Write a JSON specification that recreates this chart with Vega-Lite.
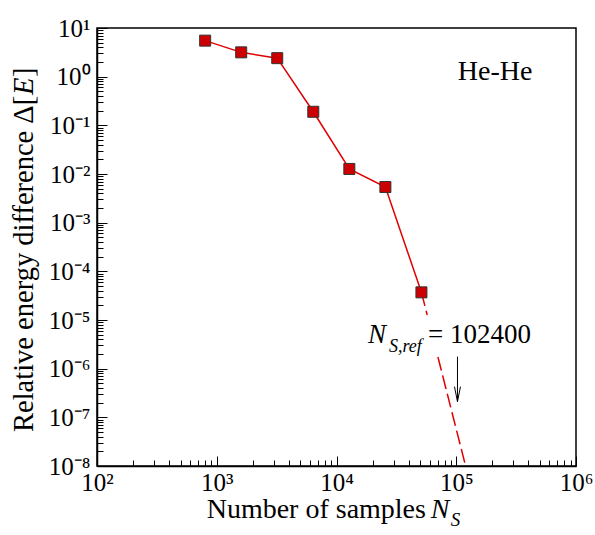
{
  "$schema": "https://vega.github.io/schema/vega-lite/v6.json",
  "width": 479,
  "height": 438,
  "autosize": "none",
  "padding": {"left": 97, "top": 28, "right": 19, "bottom": 69},
  "background": "white",
  "config": {
    "font": "Liberation Serif",
    "view": {"stroke": "black", "strokeWidth": 1.5},
    "axis": {
      "grid": false,
      "domainColor": "black",
      "domainWidth": 1.5,
      "tickColor": "black",
      "tickWidth": 1,
      "labelFont": "Liberation Serif",
      "labelFontSize": 25,
      "labelColor": "black",
      "labelOverlap": false,
      "labelFlush": false,
      "labelBound": false,
      "title": null
    },
    "text": {"font": "Liberation Serif", "color": "black"}
  },
  "datasets": {
    "main": [
      {"samples": 800, "delta": 5.5},
      {"samples": 1600, "delta": 3.16},
      {"samples": 3200, "delta": 2.4},
      {"samples": 6400, "delta": 0.19},
      {"samples": 12800, "delta": 0.0127},
      {"samples": 25600, "delta": 0.0054},
      {"samples": 51200, "delta": 3.7e-5}
    ],
    "extrap": [
      {"seg": "a", "samples": 51200, "delta": 3.7e-5},
      {"seg": "a", "samples": 57200, "delta": 1.27e-5},
      {"seg": "b", "samples": 70300, "delta": 1.74e-6},
      {"seg": "b", "samples": 119700, "delta": 1e-8}
    ]
  },
  "encoding": {
    "x": {
      "field": "samples",
      "type": "quantitative",
      "title": null,
      "scale": {"type": "log", "domain": [100, 1000000], "nice": false},
      "axis": {
        "values": [100,200,300,400,500,600,700,800,900,1000,2000,3000,4000,5000,6000,7000,8000,9000,10000,20000,30000,40000,50000,60000,70000,80000,90000,100000,200000,300000,400000,500000,600000,700000,800000,900000,1000000],
        "tickSize": {"condition": {"test": "abs(log(datum.value)/LN10 - round(log(datum.value)/LN10)) < 0.001", "value": -10}, "value": -6},
        "labelPadding": 14,
        "labelExpr": "abs(log(datum.value)/LN10 - round(log(datum.value)/LN10)) < 0.001 ? '10' + ['²','³','⁴','⁵','⁶'][round(log(datum.value)/LN10) - 2] : ''"
      }
    },
    "y": {
      "field": "delta",
      "type": "quantitative",
      "title": null,
      "scale": {"type": "log", "domain": [1e-8, 10], "nice": false},
      "axis": {
        "values": [1e-8,2e-8,3e-8,4e-8,5e-8,6e-8,7e-8,8e-8,9e-8,1e-7,2e-7,3e-7,4e-7,5e-7,6e-7,7e-7,8e-7,9e-7,1e-6,2e-6,3e-6,4e-6,5e-6,6e-6,7e-6,8e-6,9e-6,1e-5,2e-5,3e-5,4e-5,5e-5,6e-5,7e-5,8e-5,9e-5,1e-4,2e-4,3e-4,4e-4,5e-4,6e-4,7e-4,8e-4,9e-4,0.001,0.002,0.003,0.004,0.005,0.006,0.007,0.008,0.009,0.01,0.02,0.03,0.04,0.05,0.06,0.07,0.08,0.09,0.1,0.2,0.3,0.4,0.5,0.6,0.7,0.8,0.9,1,2,3,4,5,6,7,8,9,10],
        "tickSize": {"condition": {"test": "abs(log(datum.value)/LN10 - round(log(datum.value)/LN10)) < 0.001", "value": -10}, "value": -6},
        "labelPadding": 17,
        "labelExpr": "abs(log(datum.value)/LN10 - round(log(datum.value)/LN10)) < 0.001 ? '10' + ['⁻⁸','⁻⁷','⁻⁶','⁻⁵','⁻⁴','⁻³','⁻²','⁻¹','⁰','¹'][round(log(datum.value)/LN10) + 8] : ''"
      }
    }
  },
  "layer": [
    {
      "data": {"name": "main"},
      "mark": {"type": "line", "color": "#e00000", "strokeWidth": 1.5}
    },
    {
      "data": {"name": "extrap"},
      "mark": {"type": "line", "color": "#e00000", "strokeWidth": 1.5, "strokeDash": [14, 5]},
      "encoding": {"detail": {"field": "seg"}}
    },
    {
      "data": {"name": "main"},
      "mark": {"type": "point", "shape": "square", "size": 121, "filled": true, "fill": "#cc0000", "stroke": "#333333", "strokeWidth": 1, "opacity": 1}
    },
    {
      "data": {"values": [{"samples": 102400, "delta": 1.77e-6, "delta2": 2.1e-7}]},
      "mark": {"type": "rule", "color": "black", "strokeWidth": 1},
      "encoding": {"y2": {"field": "delta2"}}
    },
    {
      "data": {"values": [{"samples": 102400, "delta": 2.1e-7}]},
      "mark": {"type": "point", "shape": "M-0.2,-1L0,0L0.2,-1", "size": 900, "filled": false, "stroke": "black", "strokeWidth": 1, "opacity": 1}
    },
    {
      "data": {"values": [{"samples": 103000, "delta": 0.855, "label": "He-He"}]},
      "mark": {"type": "text", "fontSize": 28, "align": "left", "baseline": "alphabetic", "clip": false},
      "encoding": {"text": {"field": "label"}}
    },
    {
      "data": {"values": [{"samples": 18300, "delta": 3.37e-6, "label": "N"}]},
      "mark": {"type": "text", "fontSize": 27, "fontStyle": "italic", "align": "left", "baseline": "alphabetic"},
      "encoding": {"text": {"field": "label"}}
    },
    {
      "data": {"values": [{"samples": 18300, "delta": 3.37e-6, "label": "S,ref"}]},
      "mark": {"type": "text", "fontSize": 18, "fontStyle": "italic", "align": "left", "baseline": "alphabetic", "dx": 21, "dy": 9},
      "encoding": {"text": {"field": "label"}}
    },
    {
      "data": {"values": [{"samples": 18300, "delta": 3.37e-6, "label": "= 102400"}]},
      "mark": {"type": "text", "fontSize": 27, "align": "left", "baseline": "alphabetic", "dx": 60},
      "encoding": {"text": {"field": "label"}}
    },
    {
      "data": {"values": [{"samples": 823.7, "delta": 8.55e-10, "label": "Number of samples"}]},
      "mark": {"type": "text", "fontSize": 28, "align": "left", "baseline": "alphabetic", "clip": false},
      "encoding": {"text": {"field": "label"}}
    },
    {
      "data": {"values": [{"samples": 823.7, "delta": 8.55e-10, "label": "N"}]},
      "mark": {"type": "text", "fontSize": 28, "fontStyle": "italic", "align": "left", "baseline": "alphabetic", "dx": 224, "clip": false},
      "encoding": {"text": {"field": "label"}}
    },
    {
      "data": {"values": [{"samples": 823.7, "delta": 8.55e-10, "label": "S"}]},
      "mark": {"type": "text", "fontSize": 19, "fontStyle": "italic", "align": "left", "baseline": "alphabetic", "dx": 244, "dy": 8, "clip": false},
      "encoding": {"text": {"field": "label"}}
    },
    {
      "data": {"values": [{"samples": 29.3, "delta": 5.0e-8, "label": "Relative energy difference Δ["}]},
      "mark": {"type": "text", "fontSize": 28.5, "angle": 270, "align": "left", "baseline": "alphabetic", "clip": false},
      "encoding": {"text": {"field": "label"}}
    },
    {
      "data": {"values": [{"samples": 29.3, "delta": 5.0e-8, "label": "E"}]},
      "mark": {"type": "text", "fontSize": 28.5, "fontStyle": "italic", "angle": 270, "align": "left", "baseline": "alphabetic", "dx": 337, "clip": false},
      "encoding": {"text": {"field": "label"}}
    },
    {
      "data": {"values": [{"samples": 29.3, "delta": 5.0e-8, "label": "]"}]},
      "mark": {"type": "text", "fontSize": 28.5, "angle": 270, "align": "left", "baseline": "alphabetic", "dx": 355, "clip": false},
      "encoding": {"text": {"field": "label"}}
    }
  ]
}
